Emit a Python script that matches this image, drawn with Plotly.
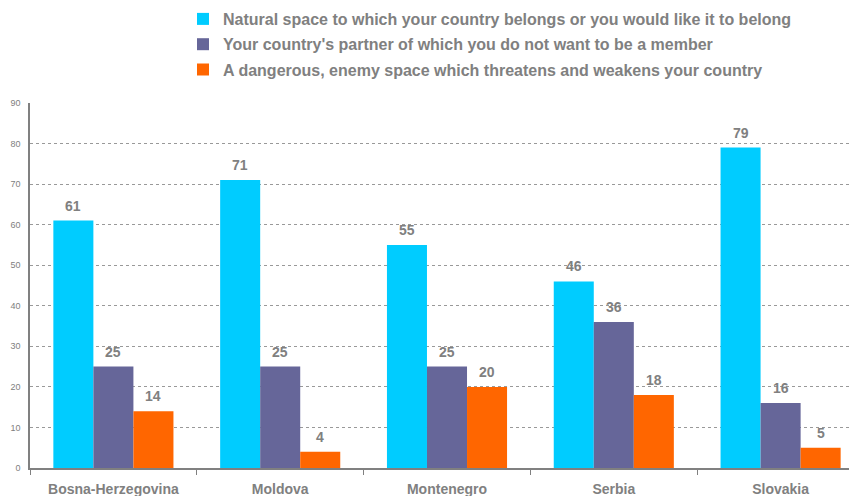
import plotly.graph_objects as go

categories = ["Bosna-Herzegovina", "Moldova", "Montenegro", "Serbia", "Slovakia"]
series_names = [
    "Natural space to which your country belongs or you would like it to belong",
    "Your country's partner of which you do not want to be a member",
    "A dangerous, enemy space which threatens and weakens your country",
]
natural = [61, 71, 55, 46, 79]
partner = [25, 25, 25, 36, 16]
enemy = [14, 4, 20, 18, 5]
colors = ["#00CCFF", "#666699", "#FF6600"]
y_ticks = [0, 10, 20, 30, 40, 50, 60, 70, 80, 90]

GRAY = "#808080"
fig = go.Figure()
all_series = [natural, partner, enemy]
for k, (name, vals, col) in enumerate(zip(series_names, all_series, colors)):
    fig.add_trace(go.Bar(x=categories, y=vals, name=name, marker_color=col,
                         marker_line_width=0, legendgroup=f"g{k}"))

annotations = []
for i, vals in enumerate(all_series):
    for c, v in zip(categories, vals):
        annotations.append(dict(x=c, y=v, xref="x", yref="y", text=str(v),
                                showarrow=False, yanchor="bottom", yshift=5,
                                xshift=(i - 1) * 40,
                                font=dict(family="Liberation Sans, Arial", size=14,
                                          color=GRAY, weight="bold")))

L, R, T, B = 22, 1, 95, 36
PW = 857 - L - R
PH = 496 - T - B
fig.update_layout(
    width=857, height=496,
    margin=dict(l=L, r=R, t=T, b=B, autoexpand=False),
    plot_bgcolor="white", paper_bgcolor="white",
    barmode="group", bargap=0.28, bargroupgap=0.0,
    showlegend=True,
    legend=dict(x=(175 - L) / PW, xanchor="left", y=1 + (T + 6) / PH, yref="paper",
                yanchor="top", orientation="v", bgcolor="rgba(0,0,0,0)",
                font=dict(family="Liberation Sans, Arial", size=16, color=GRAY,
                          weight="bold"),
                tracegroupgap=1.5, itemsizing="constant"),
    annotations=annotations,
    font=dict(family="Liberation Sans, Arial", color=GRAY),
)
fig.update_xaxes(showline=True, linecolor=GRAY, linewidth=1.5, ticks="outside",
                 tickson="boundaries", ticklen=5, tickcolor=GRAY, automargin=False,
                 ticklabelstandoff=7,
                 tickfont=dict(size=14, color=GRAY, weight="bold"), showgrid=False)
fig.update_yaxes(range=[0, 90], tickvals=y_ticks, showline=True, linecolor=GRAY,
                 linewidth=1.5, showgrid=True, gridcolor="#999999", griddash="dot",
                 gridwidth=1, tickfont=dict(size=9, color=GRAY), ticks="",
                 ticklabelstandoff=6, zeroline=False, automargin=False)

fig.write_html("out.html")
